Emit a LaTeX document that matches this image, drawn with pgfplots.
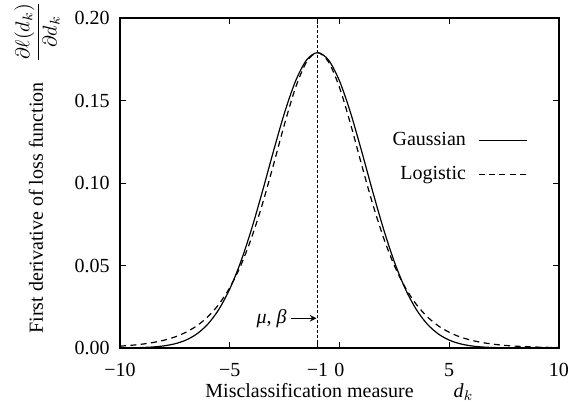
\documentclass[border=0pt]{standalone}
\usepackage{pgfplots}
\pgfplotsset{compat=1.18}
\usepackage{fontspec}
\setmainfont{Liberation Serif}
\begin{document}
\begin{tikzpicture}
\begin{axis}[
  scale only axis,
  width=219.5pt, height=165pt,
  xmin=-10, xmax=10, ymin=0, ymax=0.2,
  axis line style={line width=0.6pt},
  tick style={line width=0.5pt, black},
  major tick length=3pt,
  tick align=inside,
  xtick={-10,-5,-1,0,5,10},
  xticklabels={−10,−5,−1,0,5,10},
  ytick={0,0.05,0.10,0.15,0.20},
  yticklabels={0.00,0.05,0.10,0.15,0.20},
  ticklabel style={font=\fontsize{10}{12}\selectfont},
  xticklabel style={yshift=-4pt},
  yticklabel style={xshift=-1.7pt},
  xlabel={Misclassification measure\hspace{2em}\textit{d}$_k$},
  xlabel style={at={(axis description cs:0.5,0)}, anchor=north, yshift=-14.2pt, font=\fontsize{10}{12}\selectfont},
  legend style={draw=none, fill=none, at={(rel axis cs:0.942,0.578)}, anchor=east, row sep=5pt, column sep=4pt, font=\fontsize{10}{12}\selectfont},
  legend cell align=right,
  legend plot pos=right,
  legend image code/.code={\draw[#1] (0pt,0pt) -- (24pt,0pt);},
  clip=false,
]
\addplot[black, line width=0.6pt, smooth] coordinates {
(-10,0.00005) (-9.5,0.000125) (-9,0.00029) (-8.5,0.00062) (-8,0.00129) (-7.5,0.00255)
(-7,0.00478) (-6.5,0.00853) (-6,0.01446) (-5.5,0.02333) (-5,0.03578) (-4.5,0.05218)
(-4,0.07236) (-3.5,0.09544) (-3,0.11969) (-2.5,0.14273) (-2,0.16186) (-1.5,0.17455)
(-1,0.179) (-0.5,0.17455) (0,0.16186) (0.5,0.14273) (1,0.11969) (1.5,0.09544)
(2,0.07236) (2.5,0.05218) (3,0.03578) (3.5,0.02333) (4,0.01446) (4.5,0.00853)
(5,0.00478) (5.5,0.00255) (6,0.00129) (6.5,0.00062) (7,0.00029) (7.5,0.000125)
(8,0.00005) (8.5,0.00002) (9,0.00001) (10,0)
};
\addlegendentry{Gaussian}
\addplot[black, line width=0.6pt, smooth, dash pattern=on 3pt off 2.2pt] coordinates {
(-10,0.00114) (-9.5,0.00162) (-9,0.00232) (-8.5,0.00331) (-8,0.00471) (-7.5,0.00670)
(-7,0.00951) (-6.5,0.01344) (-6,0.01891) (-5.5,0.02642) (-5,0.03657) (-4.5,0.04996)
(-4,0.06705) (-3.5,0.08780) (-3,0.11144) (-2.5,0.13591) (-2,0.15790) (-1.5,0.17339)
(-1,0.179) (-0.5,0.17339) (0,0.15790) (0.5,0.13591) (1,0.11144) (1.5,0.08780)
(2,0.06705) (2.5,0.04996) (3,0.03657) (3.5,0.02642) (4,0.01891) (4.5,0.01344)
(5,0.00951) (5.5,0.00670) (6,0.00471) (6.5,0.00331) (7,0.00232) (7.5,0.00162)
(8,0.00114) (8.5,0.000796) (9,0.000557) (9.5,0.00039) (10,0.00027)
};
\addlegendentry{Logistic}
\addplot[black, line width=0.4pt, dash pattern=on 1.5pt off 1pt, forget plot] coordinates {(-1,0) (-1,0.2)};
\draw[->, line width=0.5pt, >=stealth] (axis cs:-2.2,0.018) -- (axis cs:-1.05,0.018);
\node[anchor=east, inner sep=1pt, font=\fontsize{10}{12}\selectfont] at (axis cs:-2.3,0.018) {\textit{μ}, \textit{β}};
\node[rotate=90, anchor=center, font=\fontsize{10}{12}\selectfont] at ([xshift=-41.5pt]rel axis cs:0,0.547)
  {First derivative of loss function\hspace{1em}$\displaystyle\frac{\partial\ell(d_k)}{\partial d_k}$};
\coordinate (bl) at (rel axis cs:0,0);
\coordinate (tr) at (rel axis cs:1,1);
\end{axis}
\pgfresetboundingbox
\path ([xshift=-60pt,yshift=-27.5pt]bl) rectangle ([xshift=7pt,yshift=9pt]tr);
\end{tikzpicture}
\end{document}
